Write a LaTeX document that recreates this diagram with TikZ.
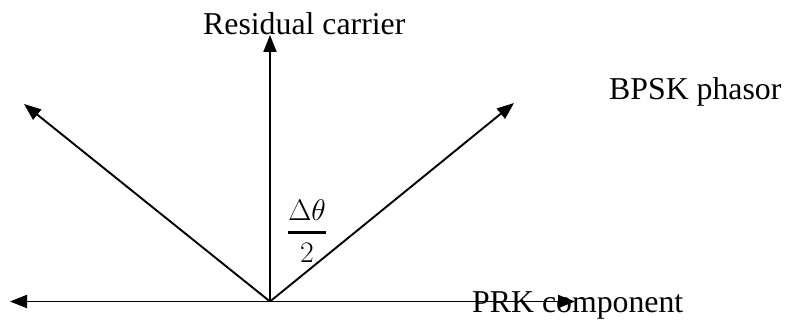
\documentclass[tikz,border=0pt]{standalone}
\usepackage{amsmath}
\usepackage{fontspec}
\setmainfont{Liberation Serif}
\usetikzlibrary{arrows.meta}
\begin{document}
\begin{tikzpicture}[x=1pt,y=-1pt,
  vec/.style={line width=1.9pt,-{Triangle[length=17pt,width=13pt]}},
  lbl/.style={inner sep=0pt,anchor=base west,font=\fontsize{31.8}{38}\selectfont}]
\useasboundingbox (0,0) rectangle (788,320);
\coordinate (O) at (270,301.5);
\coordinate (up) at (270,35);
\coordinate (ul) at (24,104);
\coordinate (ur) at (514,103);
\coordinate (hl) at (10,301.5);
\coordinate (hr) at (575,301.5);
\node[lbl] (res) at (203,35) {Residual carrier};
\node[lbl] (bpsk) at (609,100) {BPSK phasor};
\node[lbl] (prk) at (472,313) {PRK component};
\node[inner sep=0pt,font=\fontsize{24.88}{30}\selectfont] (frac) at (307,231)
  {\scalebox{1.2}{$\genfrac{}{}{2.5pt}{0}{\Delta\theta}{2}$}};
\draw[vec] (O) -- (up);
\draw[vec] (O) -- (ul);
\draw[vec] (O) -- (ur);
\draw[vec] (O) -- (hl);
\draw[vec] (O) -- (hr);
\end{tikzpicture}
\end{document}
